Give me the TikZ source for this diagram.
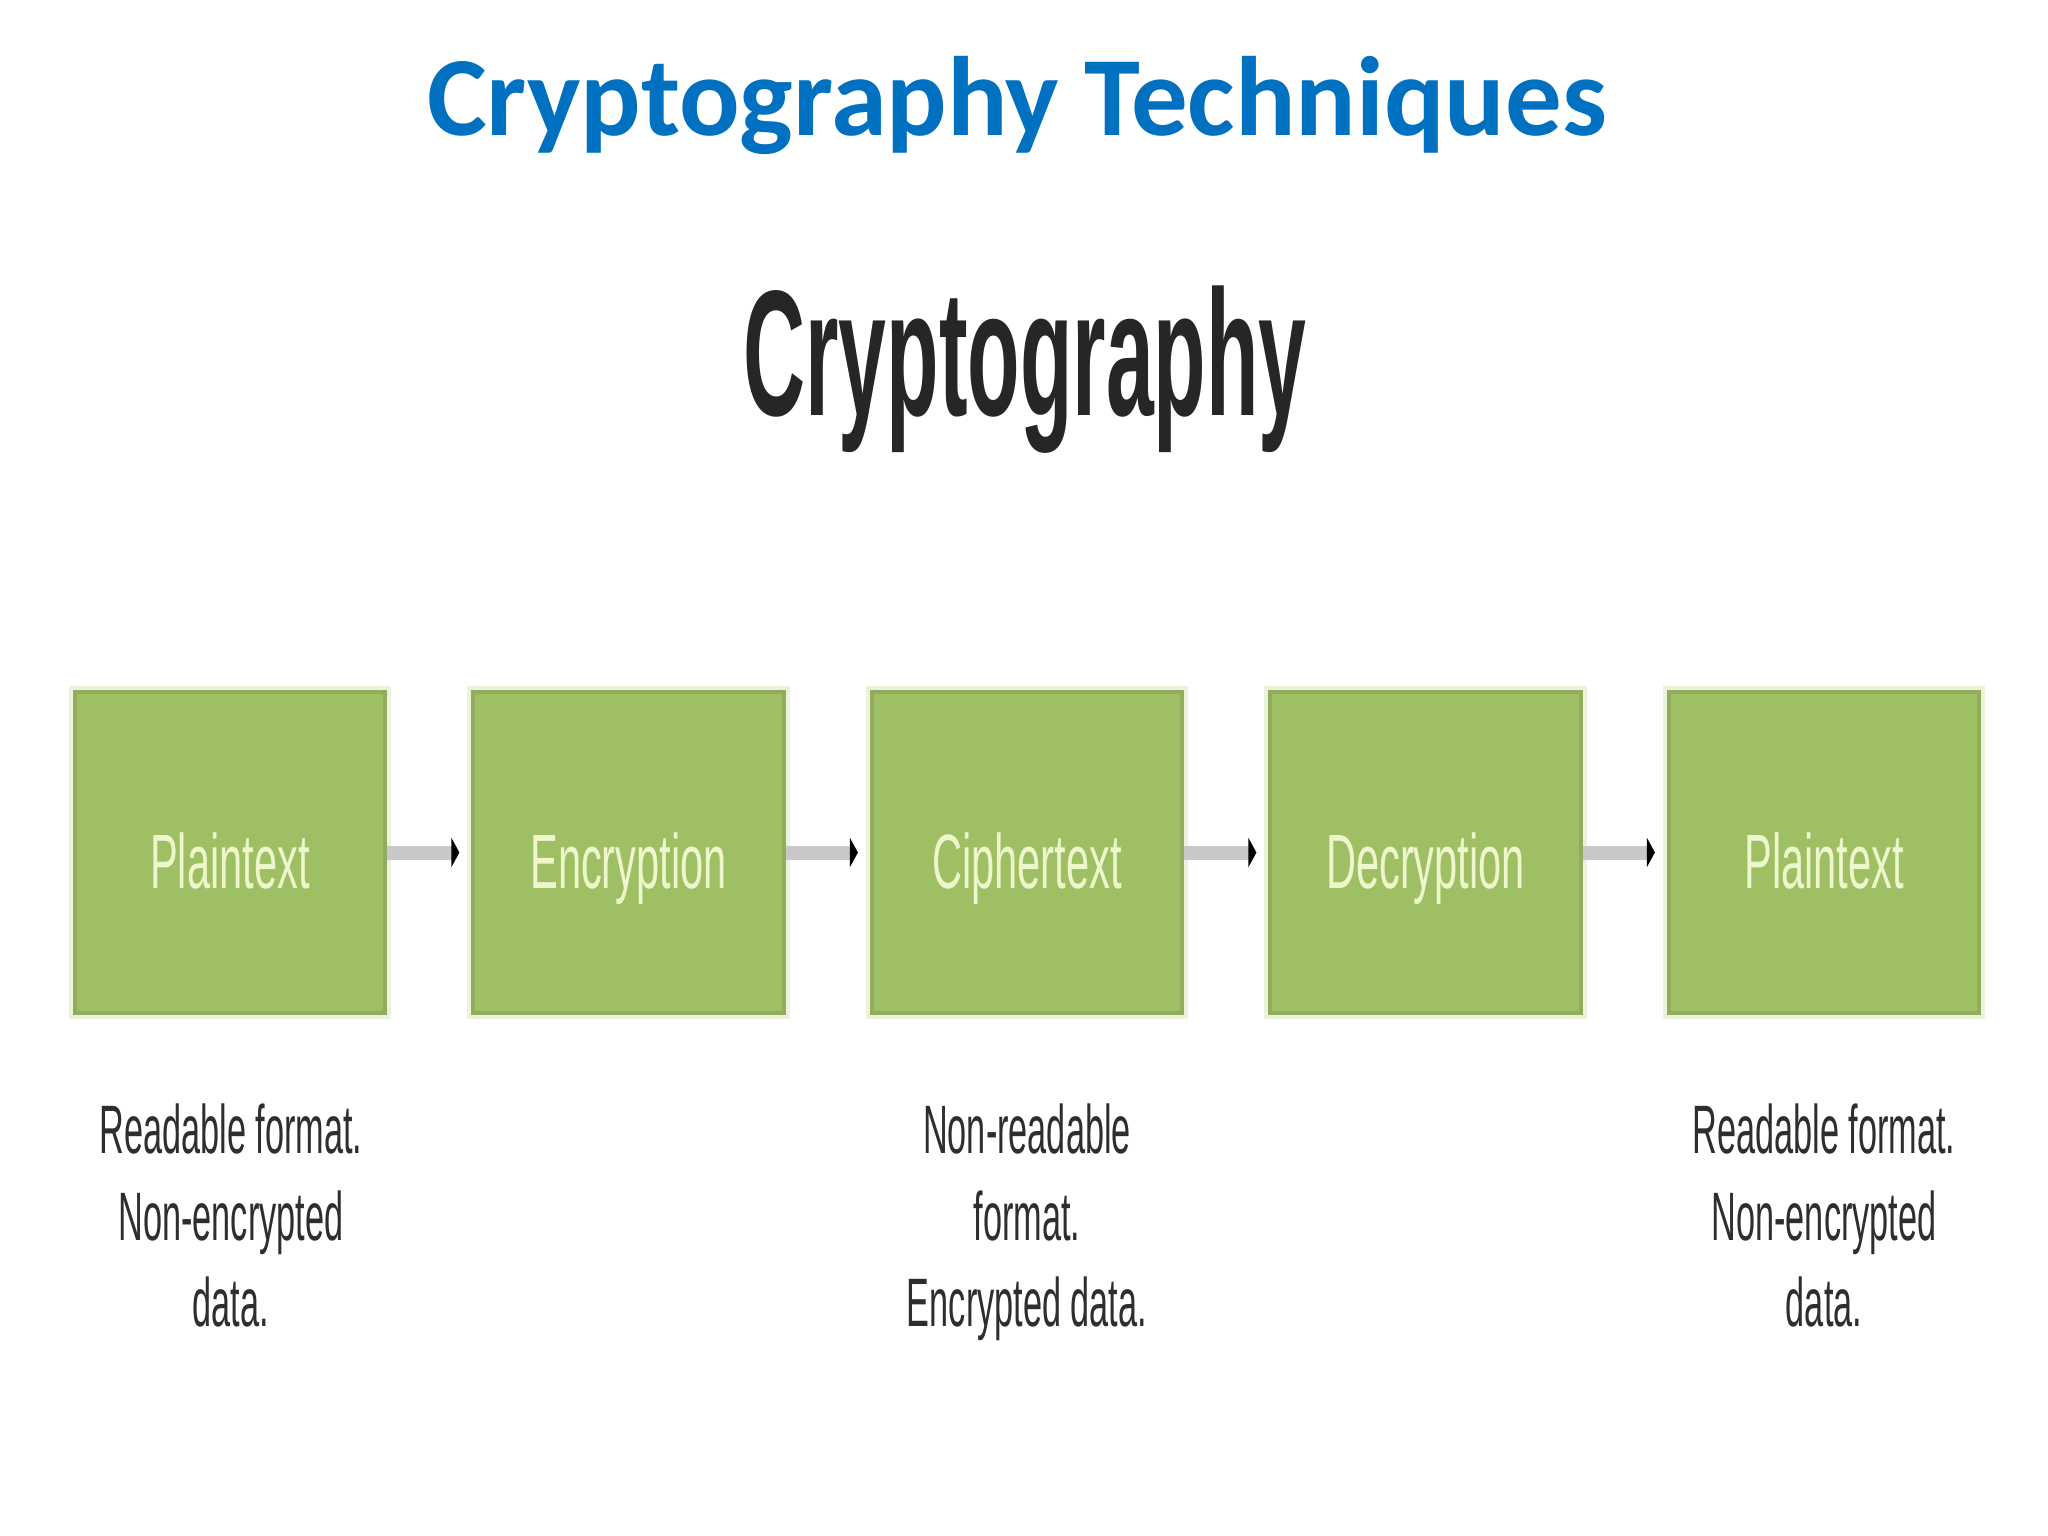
\documentclass[tikz,border=0pt]{standalone}
\usepackage{fontspec}
\setmainfont{Liberation Sans}
\newfontfamily\titlefont{Carlito}
\newfontfamily\bigfont{Liberation Sans}[FakeStretch=0.48]
\newfontfamily\labfont{Liberation Sans}[FakeStretch=0.54]
\newfontfamily\notefont{Liberation Sans}[FakeStretch=0.50]
\usetikzlibrary{arrows.meta}
\definecolor{titleblue}{HTML}{0070C0}
\definecolor{bigtext}{HTML}{262626}
\definecolor{notetext}{HTML}{2E2E2E}
\definecolor{boxgreen}{HTML}{9EBF63}
\definecolor{boxdark}{HTML}{92AC5E}
\definecolor{boxhalo}{HTML}{EDF3DA}
\definecolor{boxlabel}{HTML}{EEF7CB}
\definecolor{arrowgray}{HTML}{C8C8C8}
\tikzset{
  titlestyle/.style={anchor=base, inner sep=0, text=titleblue, font=\titlefont\bfseries\fontsize{32.1}{38}\selectfont},
  bigstyle/.style={anchor=base, inner sep=0, text=bigtext, font=\bigfont\bfseries\fontsize{50.9}{60}\selectfont},
  stagebox/.style={fill=boxgreen, draw=boxdark, line width=0.04cm, minimum width=3.1cm, minimum height=3.21cm, inner sep=0,
    preaction={draw=boxhalo, line width=0.12cm}},
  stagelabel/.style={anchor=base, inner sep=0, text=boxlabel, font=\labfont\fontsize{21.9}{26}\selectfont},
  noteline/.style={anchor=base, inner sep=0, text=notetext, font=\notefont\fontsize{19.5}{24}\selectfont},
  flow/.style={draw=arrowgray, line width=0.14cm, -{Triangle[length=0.08cm, width=0.29cm, black]}}
}
\begin{document}
\begin{tikzpicture}[x=0.01cm, y=-0.01cm]
\useasboundingbox (0,0) rectangle (2048,1536);
\fill[white] (0,0) rectangle (2048,1536);

\node[titlestyle] (title) at (1017,135) {Cryptography Techniques};
\node[bigstyle] (crypto) at (1025,415) {Cryptography};

\node[stagebox] (b1) at (230,852.5) {};
\node[stagebox] (b2) at (628.5,852.5) {};
\node[stagebox] (b3) at (1027,852.5) {};
\node[stagebox] (b4) at (1425.5,852.5) {};
\node[stagebox] (b5) at (1824,852.5) {};

\node[stagelabel] (l1) at (230,888) {Plaintext};
\node[stagelabel] (l2) at (628.5,888) {Encryption};
\node[stagelabel] (l3) at (1027,888) {Ciphertext};
\node[stagelabel] (l4) at (1425.5,888) {Decryption};
\node[stagelabel] (l5) at (1824,888) {Plaintext};

\draw[flow] (b1.east) -- ([xshift=-0.12cm]b2.west);
\draw[flow] (b2.east) -- ([xshift=-0.12cm]b3.west);
\draw[flow] (b3.east) -- ([xshift=-0.12cm]b4.west);
\draw[flow] (b4.east) -- ([xshift=-0.12cm]b5.west);

\node[noteline] (n1a) at (231,1153) {Readable format.};
\node[noteline] (n1b) at (231,1240) {Non-encrypted};
\node[noteline] (n1c) at (231,1326) {data.};

\node[noteline] (n3a) at (1027,1153) {Non-readable};
\node[noteline] (n3b) at (1027,1240) {format.};
\node[noteline] (n3c) at (1027,1326) {Encrypted data.};

\node[noteline] (n5a) at (1824,1153) {Readable format.};
\node[noteline] (n5b) at (1824,1240) {Non-encrypted};
\node[noteline] (n5c) at (1824,1326) {data.};
\end{tikzpicture}
\end{document}
